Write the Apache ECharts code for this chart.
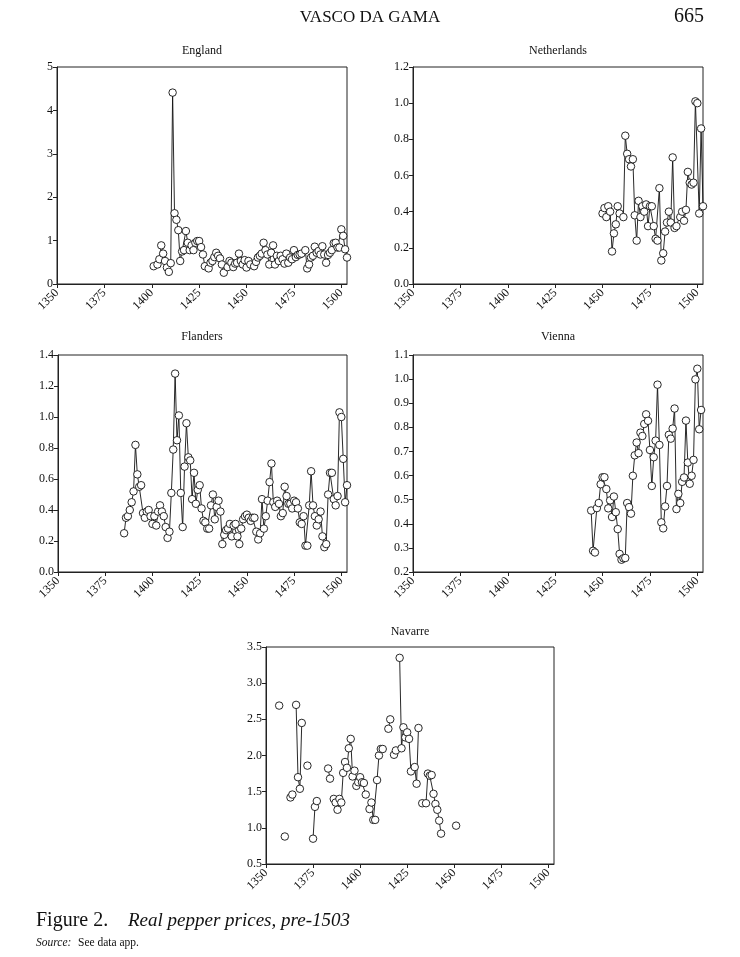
<!DOCTYPE html>
<html><head><meta charset="utf-8">
<script src="https://cdn.jsdelivr.net/npm/echarts@6/dist/echarts.min.js"></script>
<style>html,body{margin:0;padding:0;background:#fff}#c{width:740px;height:957px}</style>
</head><body><div id="c"></div>
<script>
// ---------- DATA ----------
const xTickLabels = [1350, 1375, 1400, 1425, 1450, 1475, 1500];

const englandYears = [1401,1403,1404,1405,1406,1407,1408,1409,1410,1411,1412,1413,1414,1415,1416,1417,1418,1419,1420,1421,1422,1423,1424,1425,1426,1427,1428,1430,1431,1432,1433,1434,1435,1436,1437,1438,1440,1441,1442,1443,1444,1445,1446,1447,1448,1449,1450,1451,1452,1454,1455,1456,1457,1458,1459,1460,1461,1462,1463,1464,1465,1466,1467,1468,1469,1470,1471,1472,1473,1474,1475,1476,1477,1478,1479,1481,1482,1483,1484,1485,1486,1487,1488,1489,1490,1491,1492,1493,1494,1495,1496,1497,1498,1499,1500,1501,1502,1503];
const englandPrices = [0.41,0.45,0.57,0.89,0.70,0.53,0.38,0.28,0.48,4.41,1.63,1.48,1.24,0.53,0.75,0.78,1.22,0.95,0.78,0.89,0.78,0.95,0.99,0.99,0.85,0.68,0.41,0.36,0.49,0.53,0.62,0.72,0.65,0.59,0.45,0.26,0.39,0.53,0.49,0.39,0.47,0.49,0.70,0.53,0.45,0.55,0.38,0.53,0.45,0.41,0.51,0.61,0.65,0.70,0.95,0.78,0.68,0.45,0.72,0.89,0.45,0.65,0.53,0.65,0.57,0.47,0.70,0.49,0.61,0.57,0.78,0.62,0.67,0.68,0.70,0.78,0.36,0.45,0.61,0.65,0.86,0.72,0.76,0.68,0.87,0.68,0.49,0.67,0.72,0.78,0.94,0.95,0.84,0.84,1.26,1.11,0.80,0.61];

const netherlandsYears = [1450,1451,1452,1453,1454,1455,1456,1457,1458,1459,1461,1462,1463,1464,1465,1466,1467,1468,1469,1470,1471,1472,1473,1474,1475,1476,1477,1478,1479,1480,1481,1482,1483,1484,1485,1486,1487,1488,1489,1491,1492,1493,1494,1495,1496,1497,1498,1499,1500,1501,1502,1503];
const netherlandsPrices = [0.39,0.42,0.37,0.43,0.40,0.18,0.28,0.33,0.43,0.39,0.37,0.82,0.72,0.69,0.65,0.69,0.38,0.24,0.46,0.37,0.43,0.40,0.44,0.32,0.43,0.43,0.32,0.25,0.24,0.53,0.13,0.17,0.29,0.34,0.40,0.34,0.70,0.31,0.32,0.37,0.40,0.35,0.41,0.62,0.56,0.55,0.56,1.01,1.00,0.39,0.86,0.43];

const flandersYears = [1385,1386,1387,1388,1389,1390,1391,1392,1393,1394,1395,1396,1397,1398,1399,1400,1401,1402,1403,1404,1405,1406,1407,1408,1409,1410,1411,1412,1413,1414,1415,1416,1417,1418,1419,1420,1421,1422,1423,1424,1425,1426,1427,1428,1429,1430,1431,1432,1433,1434,1435,1436,1437,1438,1439,1440,1441,1442,1443,1444,1445,1446,1447,1448,1449,1450,1451,1452,1453,1454,1455,1456,1457,1458,1459,1460,1461,1462,1463,1464,1465,1466,1467,1468,1469,1470,1471,1472,1473,1474,1475,1476,1477,1478,1479,1480,1481,1482,1483,1484,1485,1486,1487,1488,1489,1490,1491,1492,1493,1494,1495,1496,1497,1498,1499,1500,1501,1502,1503];
const flandersPrices = [0.25,0.35,0.36,0.40,0.45,0.52,0.82,0.63,0.55,0.56,0.38,0.35,0.39,0.40,0.36,0.31,0.36,0.30,0.39,0.43,0.39,0.36,0.29,0.22,0.26,0.51,0.79,1.28,0.85,1.01,0.51,0.29,0.68,0.96,0.74,0.72,0.47,0.64,0.44,0.53,0.56,0.41,0.33,0.32,0.28,0.28,0.43,0.50,0.34,0.42,0.46,0.39,0.18,0.24,0.27,0.28,0.31,0.23,0.30,0.31,0.23,0.18,0.28,0.34,0.36,0.37,0.35,0.33,0.35,0.35,0.26,0.21,0.25,0.47,0.28,0.36,0.46,0.58,0.70,0.45,0.42,0.46,0.44,0.36,0.38,0.55,0.49,0.44,0.44,0.41,0.46,0.45,0.41,0.32,0.31,0.36,0.17,0.17,0.43,0.65,0.43,0.36,0.30,0.34,0.39,0.23,0.16,0.18,0.50,0.64,0.64,0.47,0.43,0.49,1.03,1.00,0.73,0.45,0.56];

const viennaYears = [1444,1445,1446,1447,1448,1449,1450,1451,1452,1453,1454,1455,1456,1457,1458,1459,1460,1461,1462,1463,1464,1465,1466,1467,1468,1469,1470,1471,1472,1473,1474,1475,1476,1477,1478,1479,1480,1481,1482,1483,1484,1485,1486,1487,1488,1489,1490,1491,1492,1493,1494,1495,1496,1497,1498,1499,1500,1501,1502];
const viennaPrices = [0.455,0.288,0.281,0.465,0.486,0.564,0.593,0.593,0.544,0.464,0.497,0.428,0.513,0.448,0.378,0.275,0.251,0.257,0.258,0.486,0.469,0.442,0.599,0.684,0.737,0.693,0.778,0.764,0.814,0.854,0.827,0.706,0.557,0.676,0.745,0.977,0.727,0.406,0.381,0.472,0.557,0.769,0.753,0.795,0.878,0.461,0.524,0.486,0.574,0.592,0.828,0.654,0.566,0.599,0.665,0.999,1.043,0.792,0.872];

const navarreYears = [1357,1360,1363,1364,1366,1367,1368,1369,1372,1375,1376,1377,1383,1384,1386,1387,1388,1389,1390,1391,1392,1393,1394,1395,1396,1397,1398,1399,1400,1401,1402,1403,1405,1406,1407,1408,1409,1410,1411,1412,1415,1416,1418,1419,1421,1422,1423,1424,1425,1426,1427,1429,1430,1431,1433,1435,1436,1437,1438,1439,1440,1441,1442,1443,1451];
const navarrePrices = [2.69,0.88,1.42,1.46,2.70,1.70,1.54,2.45,1.86,0.85,1.29,1.37,1.82,1.68,1.40,1.35,1.25,1.40,1.35,1.76,1.91,1.83,2.10,2.23,1.71,1.79,1.58,1.63,1.70,1.63,1.62,1.46,1.26,1.35,1.11,1.11,1.66,2.00,2.09,2.09,2.37,2.50,2.01,2.07,3.35,2.10,2.39,2.25,2.32,2.23,1.78,1.84,1.61,2.38,1.34,1.34,1.75,1.72,1.73,1.47,1.33,1.25,1.10,0.92,1.03];

const panelNames = ['England', 'Netherlands', 'Flanders', 'Vienna', 'Navarre'];
const yMins = [0, 0, 0, 0.2, 0.5];
const yMaxs = [5, 1.2, 1.4, 1.1, 3.5];
const yIntervals = [1, 0.2, 0.2, 0.1, 0.5];
const yDecimals = [0, 1, 1, 1, 1];

// ---------- LAYOUT ----------
const grids = [
  {left: 57, top: 67, width: 290, height: 217},
  {left: 413, top: 67, width: 290, height: 217},
  {left: 58, top: 355, width: 289, height: 217},
  {left: 413, top: 355, width: 290, height: 217},
  {left: 266, top: 647, width: 288, height: 217}
];
const titlePos = [[202, 51], [558, 51], [202, 337], [558, 337], [410, 632]];

function pairs(years, vals, breakGaps) {
  const out = [];
  for (let i = 0; i < years.length; i++) {
    if (breakGaps && i > 0 && years[i] - years[i - 1] > 1) out.push([years[i - 1] + 1, '-']);
    out.push([years[i], vals[i]]);
  }
  return out;
}
const seriesData = [
  pairs(englandYears, englandPrices, false),
  pairs(netherlandsYears, netherlandsPrices, false),
  pairs(flandersYears, flandersPrices, false),
  pairs(viennaYears, viennaPrices, false),
  pairs(navarreYears, navarrePrices, true)
];

const FONT = 'Liberation Serif';
const chart = echarts.init(document.getElementById('c'), null, {renderer: 'canvas'});

const option = {
  animation: false,
  backgroundColor: '#fff',
  grid: grids.map(g => Object.assign({show: true, borderColor: '#222', borderWidth: 1, backgroundColor: 'transparent', containLabel: false}, g)),
  xAxis: grids.map((g, i) => ({
    gridIndex: i, type: 'value', min: 1350, max: 1503, interval: 25,
    axisLine: {show: true, onZero: false, lineStyle: {color: '#222', width: 1}},
    axisTick: {show: true, length: 4, customValues: xTickLabels, lineStyle: {color: '#222', width: 1}},
    axisLabel: {rotate: 45, margin: 7, customValues: xTickLabels, fontFamily: FONT, fontSize: 12, color: '#111',
      formatter: v => (v % 25 === 0 ? String(v) : '')},
    splitLine: {show: false}
  })),
  yAxis: grids.map((g, i) => ({
    gridIndex: i, type: 'value', min: yMins[i], max: yMaxs[i], interval: yIntervals[i],
    axisLine: {show: true, onZero: false, lineStyle: {color: '#222', width: 1}},
    axisTick: {show: true, length: 4, lineStyle: {color: '#222', width: 1}},
    axisLabel: {margin: 4, fontFamily: FONT, fontSize: 12, color: '#111',
      formatter: v => Number(v).toFixed(yDecimals[i])},
    splitLine: {show: false}
  })),
  series: seriesData.map((d, i) => ({
    type: 'line', name: panelNames[i], xAxisIndex: i, yAxisIndex: i, data: d,
    symbol: 'circle', symbolSize: 7.5, showSymbol: true, showAllSymbol: true,
    connectNulls: false, silent: true,
    lineStyle: {color: '#111', width: 0.9},
    itemStyle: {color: '#fff', borderColor: '#111', borderWidth: 0.9}
  })),
  graphic: [
    {type: 'text', x: 370, y: 17.5, style: {text: 'VASCO DA GAMA', font: '17px "Liberation Serif"', fill: '#111', textAlign: 'center', textVerticalAlign: 'middle'}},
    {type: 'text', x: 704, y: 17, style: {text: '665', font: '20px "Liberation Serif"', fill: '#111', textAlign: 'right', textVerticalAlign: 'middle'}},
    ...panelNames.map((n, i) => ({type: 'text', x: titlePos[i][0], y: titlePos[i][1],
      style: {text: n, font: '12px "Liberation Serif"', fill: '#111', textAlign: 'center', textVerticalAlign: 'middle'}})),
    {type: 'text', x: 36, y: 921, style: {text: 'Figure 2.', font: '20px "Liberation Serif"', fill: '#111', textAlign: 'left', textVerticalAlign: 'middle'}},
    {type: 'text', x: 128, y: 921, style: {text: 'Real pepper prices, pre-1503', font: 'italic 19px "Liberation Serif"', fill: '#111', textAlign: 'left', textVerticalAlign: 'middle'}},
    {type: 'text', x: 36, y: 943, style: {text: 'Source:', font: 'italic 11.5px "Liberation Serif"', fill: '#111', textAlign: 'left', textVerticalAlign: 'middle'}},
    {type: 'text', x: 78, y: 943, style: {text: 'See data app.', font: '11.5px "Liberation Serif"', fill: '#111', textAlign: 'left', textVerticalAlign: 'middle'}}
  ]
};
chart.setOption(option);
</script></body></html>
